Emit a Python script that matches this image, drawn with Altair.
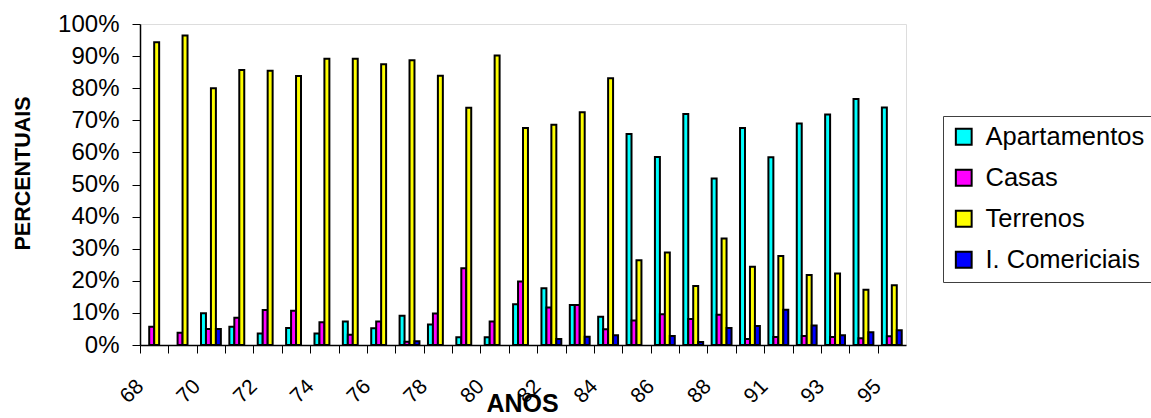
import json
import altair as alt
import pandas as pd

years = ["68", "69", "70", "71", "72", "73", "74", "75", "76", "77", "78", "79", "80",
         "81", "82", "83", "84", "85", "86", "87", "88", "89", "91", "92", "93", "94", "95"]
shown_labels = ["68", "70", "72", "74", "76", "78", "80", "82", "84", "86", "88", "91", "93", "95"]

series = ["Apartamentos", "Casas", "Terrenos", "I. Comericiais"]
colors = ["#00FFFF", "#FF00FF", "#FFFF00", "#0000FF"]

apartamentos = [None, None, 9.9, 5.7, 3.6, 5.3, 3.6, 7.3, 5.2, 9.1, 6.4, 2.4, 2.4, 12.7,
                17.7, 12.5, 8.8, 65.7, 58.6, 72.0, 51.9, 67.6, 58.5, 69.0, 71.8, 76.6, 74.0]
casas = [5.7, 3.8, 5.0, 8.5, 10.9, 10.7, 7.1, 3.2, 7.3, 1.0, 9.8, 23.9, 7.3, 19.8,
         11.7, 12.5, 4.9, 7.6, 9.6, 8.1, 9.4, 1.9, 2.5, 2.8, 2.5, 2.1, 2.7]
terrenos = [94.3, 96.4, 80.0, 85.7, 85.4, 83.8, 89.2, 89.2, 87.5, 88.7, 83.9, 73.9, 90.2, 67.6,
            68.6, 72.5, 83.1, 26.4, 28.8, 18.4, 33.2, 24.4, 27.7, 21.8, 22.3, 17.2, 18.6]
comerciais = [None, None, 5.0, None, None, None, None, None, None, 1.2, None, None, None, None,
              1.9, 2.6, 3.0, None, 2.8, 0.9, 5.3, 5.9, 11.0, 6.1, 3.0, 4.0, 4.6]

y_ticks = [0, 10, 20, 30, 40, 50, 60, 70, 80, 90, 100]

rows = []
for name, vals in zip(series, [apartamentos, casas, terrenos, comerciais]):
    for yr, v in zip(years, vals):
        if v is not None:
            rows.append({"ano": yr, "serie": name, "valor": v})
df = pd.DataFrame(rows)

FONT = "Liberation Sans"
W, H = 766, 321
PL, PT = 140, 24
STEP = W / len(years)

label_expr = "indexof(" + json.dumps(shown_labels) + ", datum.value) >= 0 ? datum.label : ''"

chart = alt.Chart(df).mark_bar(stroke="black", strokeWidth=2).encode(
    x=alt.X("ano:N", sort=years,
            scale=alt.Scale(domain=years, paddingInner=0.3, paddingOuter=0.15),
            axis=alt.Axis(title="ANOS", labelExpr=label_expr, labelAngle=315,
                          labelAlign="right", labelBaseline="middle", labelPadding=30,
                          labelFontSize=21, labelFont=FONT, labelColor="black",
                          tickOffset=-STEP / 2, tickSize=8, tickColor="black", tickWidth=1,
                          domainColor="black", domainWidth=1.5, grid=False,
                          titleFont=FONT, titleFontSize=25, titleFontWeight="bold",
                          titleColor="black", titleX=382, titleY=58,
                          titleAlign="center", titleBaseline="middle")),
    xOffset=alt.XOffset("serie:N", sort=series, scale=alt.Scale(domain=series)),
    y=alt.Y("valor:Q",
            scale=alt.Scale(domain=[0, 100], nice=False),
            axis=alt.Axis(title="PERCENTUAIS", values=y_ticks,
                          labelExpr="datum.value + '%'", labelFontSize=24, labelFont=FONT,
                          labelColor="black", labelPadding=13, tickSize=8, tickColor="black",
                          domainColor="black", domainWidth=1.5, grid=False,
                          titleFont=FONT, titleFontSize=21.5, titleFontWeight="bold",
                          titleColor="black", titleAngle=270, titleX=-117, titleY=149,
                          titleAlign="center", titleBaseline="middle")),
    fill=alt.Fill("serie:N", sort=series,
                  scale=alt.Scale(domain=series, range=colors),
                  legend=alt.Legend(title=None, orient="none", legendX=803, legendY=92,
                                    padding=8, strokeColor="#404040", fillColor="white",
                                    labelFontSize=25.5, labelFont=FONT, labelColor="black",
                                    labelLimit=400, labelOffset=9,
                                    symbolType="square", symbolSize=250,
                                    symbolStrokeColor="black", symbolStrokeWidth=2,
                                    symbolOpacity=1, rowPadding=14)),
).properties(
    width=W, height=H,
    padding={"left": PL, "top": PT, "right": 1151 - PL - W, "bottom": 418 - PT - H},
    autosize=alt.AutoSizeParams(type="none"),
).configure_view(
    stroke="#808080", strokeWidth=2
).configure(background="white")

chart.save("out.html", embed_options={"renderer": "svg", "actions": False})
